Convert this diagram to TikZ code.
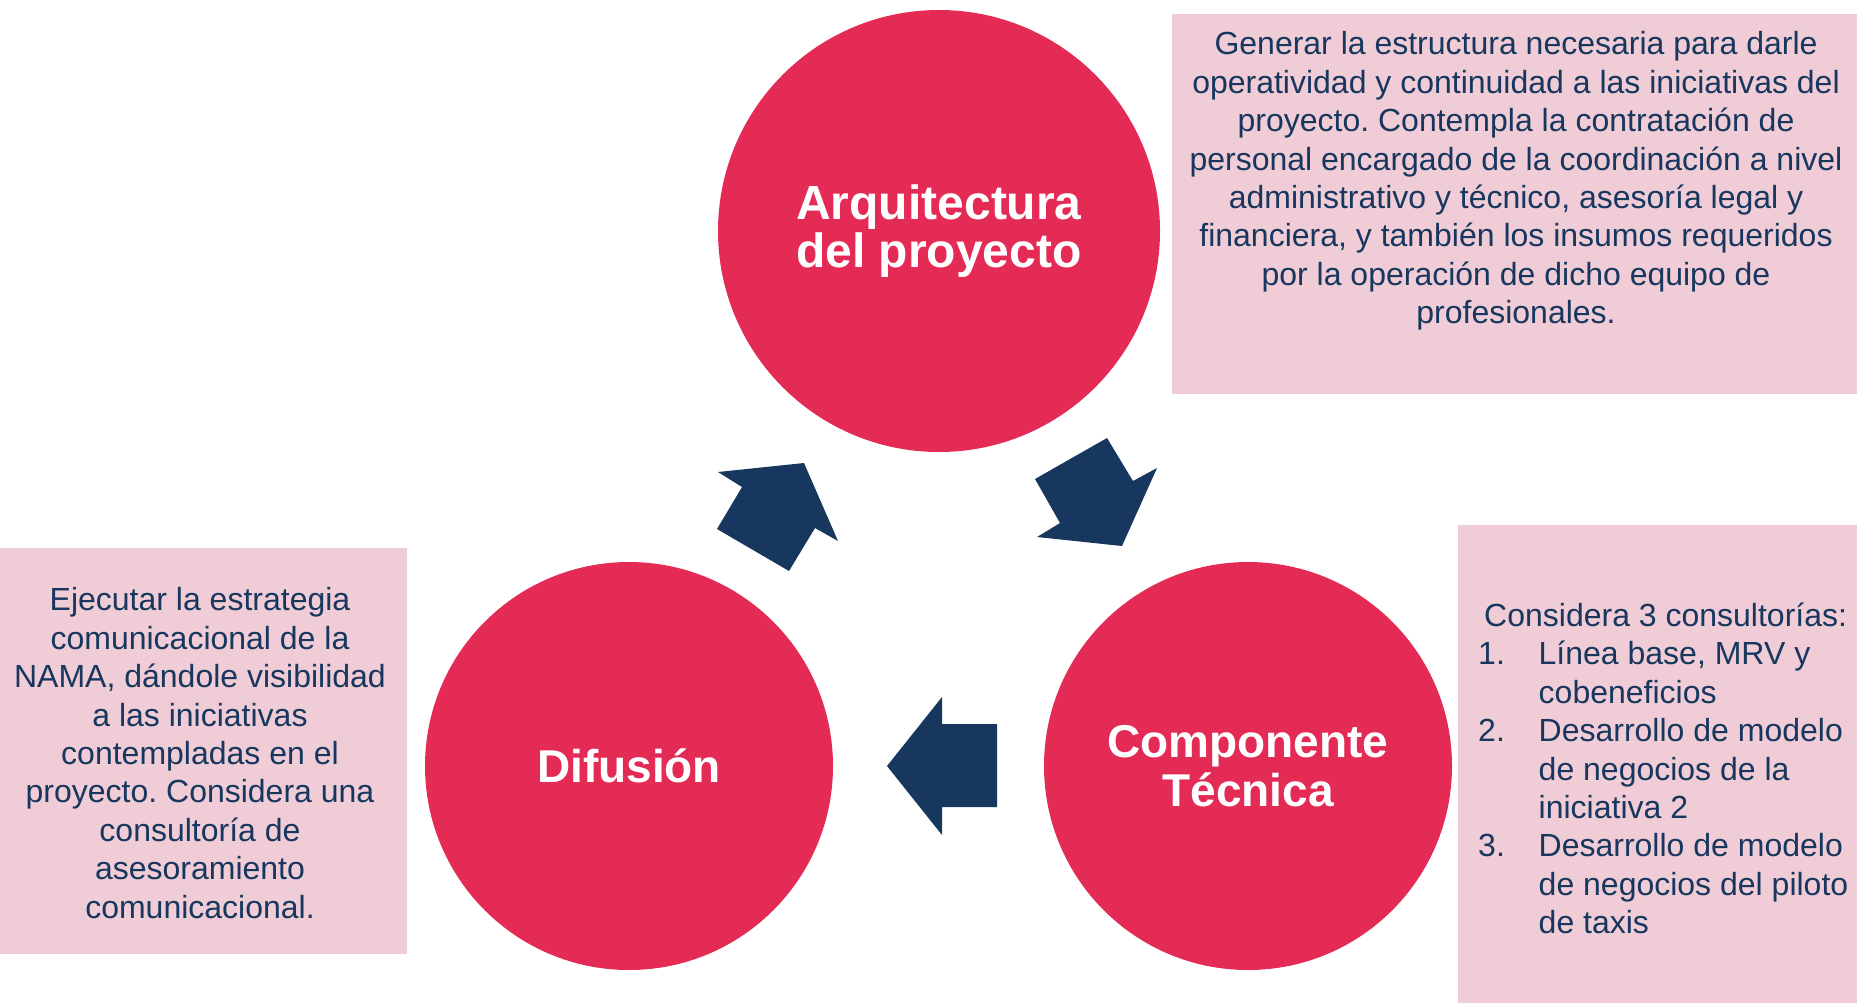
\documentclass[tikz,border=0pt]{standalone}
\usepackage{fontspec}
\setmainfont{Liberation Sans}
\usetikzlibrary{positioning}
\definecolor{carmesi}{RGB}{228,43,86}
\definecolor{marino}{RGB}{23,55,94}
\definecolor{rosa}{RGB}{240,204,214}
\frenchspacing
\tikzset{
  etapa/.style={circle, fill=carmesi, minimum size=#1, inner sep=0pt, text=white,
    font=\fontsize{46}{48.5}\selectfont\bfseries, align=center},
  cuadro/.style={fill=rosa, inner sep=0pt, outer sep=0pt},
  texto/.style={text=marino, font=\fontsize{32}{38.4}\selectfont, align=center, inner sep=0pt},
  flecha/.style={fill=marino}
}

\begin{document}
\begin{tikzpicture}[x=1pt,y=-1pt]
\useasboundingbox (0,0) rectangle (1857,1005);

% cuadros de descripcion
\node[cuadro, minimum width=685pt, minimum height=380pt] (cajaArq) at (1514.5,204) {};
\node[cuadro, minimum width=407pt, minimum height=406pt] (cajaDif) at (203.5,751) {};
\node[cuadro, minimum width=399pt, minimum height=478pt] (cajaTec) at (1657.5,764) {};

% etapas
\node[etapa=442pt, font=\fontsize{48}{48.5}\selectfont\bfseries] (arq) at (939,231) {Arquitectura\\del proyecto};
\node[etapa=408pt] (dif) at (629,766) {Difusión};
\node[etapa=408pt] (tec) at (1248,766) {Componente\\Técnica};

% textos
\node[texto] (txtArq) at (1516,181) {Generar la estructura necesaria para darle\\
  operatividad y continuidad a las iniciativas del\\
  proyecto. Contempla la contratación de\\
  personal encargado de la coordinación a nivel\\
  administrativo y técnico, asesoría legal y\\
  financiera, y también los insumos requeridos\\
  por la operación de dicho equipo de\\
  profesionales.};
\node[texto] (txtDif) at (200,753) {Ejecutar la estrategia\\
  comunicacional de la\\
  NAMA, dándole visibilidad\\
  a las iniciativas\\
  contempladas en el\\
  proyecto. Considera una\\
  consultoría de\\
  asesoramiento\\
  comunicacional.};
\node[texto, align=left, anchor=west] (txtTec) at (1478,768.5) {\hspace*{6pt}Considera 3 consultorías:\\
  \makebox[60.5pt][l]{1.}Línea base, MRV y\\
  \hspace*{60.5pt}cobeneficios\\
  \makebox[60.5pt][l]{2.}Desarrollo de modelo\\
  \hspace*{60.5pt}de negocios de la\\
  \hspace*{60.5pt}iniciativa 2\\
  \makebox[60.5pt][l]{3.}Desarrollo de modelo\\
  \hspace*{60.5pt}de negocios del piloto\\
  \hspace*{60.5pt}de taxis};

% flechas del ciclo
\fill[flecha] (742,487) -- (718,472) -- (804,463) -- (838,541) -- (815,528) -- (789,571) -- (717,529) -- cycle;
\fill[flecha] (1035,479) -- (1107,438) -- (1133,481) -- (1157,468) -- (1122,546) -- (1037,537) -- (1060,523) -- cycle;
\fill[flecha] (997,724) -- (942,724) -- (942,697) -- (887,766) -- (942,835) -- (942,807) -- (997,807) -- cycle;
\end{tikzpicture}
\end{document}
